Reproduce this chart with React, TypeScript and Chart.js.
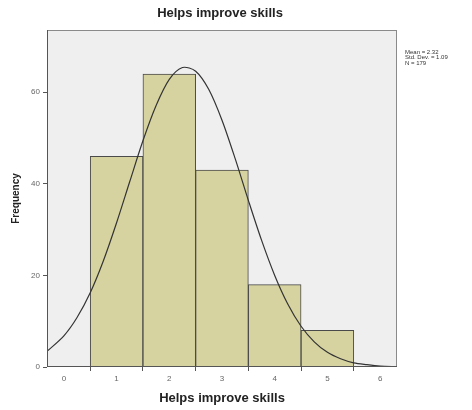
import React, { useEffect, useRef } from "react";
import { Chart, registerables } from "chart.js";

Chart.register(...registerables);

const binCenters = [1, 2, 3, 4, 5];
const frequencies = [46, 64, 43, 18, 8];
const curveX = [-0.32, 0, 0.25, 0.5, 0.75, 1, 1.25, 1.5, 1.75, 2, 2.25, 2.5, 2.75, 3, 3.25, 3.5, 3.75, 4, 4.25, 4.5, 4.75, 5, 5.25, 5.5, 5.75, 6, 6.32];
const curveY = [3.4, 6.8, 10.8, 16.2, 23.2, 31.5, 40.5, 49.4, 57.1, 62.8, 65.4, 64.6, 60.6, 53.9, 45.5, 36.4, 27.7, 20.0, 13.7, 8.9, 5.5, 3.2, 1.8, 0.9, 0.5, 0.2, 0.05];
const xTicks = [0, 1, 2, 3, 4, 5, 6];
const yTicks = [0, 20, 40, 60];
const statsLines = ["Mean = 2.32", "Std. Dev. = 1.09", "N = 179"];
const chartTitle = "Helps improve skills";
const xTitle = "Helps improve skills";
const yTitle = "Frequency";

const FONT = "'Liberation Sans', Arial, sans-serif";

const framePlugin = {
  id: "frame",
  beforeDraw(chart: any) {
    const { ctx, chartArea: a } = chart;
    ctx.save();
    ctx.fillStyle = "#efefef";
    ctx.fillRect(a.left, a.top, a.right - a.left, a.bottom - a.top);
    ctx.restore();
  },
  afterDraw(chart: any) {
    const { ctx, chartArea: a } = chart;
    ctx.save();
    ctx.strokeStyle = "#8a8a8a";
    ctx.lineWidth = 1;
    ctx.strokeRect(a.left + 0.5, a.top + 0.5, a.right - a.left - 1, a.bottom - a.top - 1);
    ctx.strokeStyle = "#555";
    ctx.beginPath();
    ctx.moveTo(a.left, a.bottom - 0.5);
    ctx.lineTo(a.right, a.bottom - 0.5);
    ctx.moveTo(a.left + 0.5, a.top);
    ctx.lineTo(a.left + 0.5, a.bottom);
    ctx.stroke();
    // title
    ctx.fillStyle = "#222";
    ctx.font = `bold 13px ${FONT}`;
    ctx.textAlign = "center";
    ctx.textBaseline = "middle";
    ctx.fillText(chartTitle, 220, 13);
    // stats
    ctx.font = `6px ${FONT}`;
    ctx.textAlign = "left";
    ctx.fillStyle = "#333";
    statsLines.forEach((s, i) => ctx.fillText(s, a.right + 8, 52 + i * 5.8));
    ctx.restore();
  },
};

export default function App() {
  const ref = useRef<HTMLCanvasElement>(null);
  useEffect(() => {
    document.body.style.margin = "0";
    const chart = new Chart(ref.current!, {
      type: "bar",
      data: {
        datasets: [
          {
            type: "line",
            data: curveX.map((x, i) => ({ x, y: curveY[i] })),
            borderColor: "#333",
            borderWidth: 1.2,
            pointRadius: 0,
            tension: 0.3,
            fill: false,
            order: 0,
          } as any,
          {
            type: "bar",
            data: binCenters.map((x, i) => ({ x, y: frequencies[i] })),
            backgroundColor: "#d6d3a0",
            borderColor: "#4a4a4a",
            borderWidth: 1,
            barPercentage: 1,
            categoryPercentage: 1,
            order: 1,
          } as any,
        ],
      },
      options: {
        responsive: false,
        animation: false,
        layout: { padding: { top: 30, right: 75, left: 0, bottom: 0 } },
        plugins: { legend: { display: false }, tooltip: { enabled: false }, title: { display: false } },
        scales: {
          x: {
            type: "linear",
            min: -0.32,
            max: 6.32,
            offset: false,
            afterBuildTicks: (s: any) => {
              s.ticks = xTicks.map((v) => ({ value: v }));
            },
            afterFit: (s: any) => {
              s.height = 43;
            },
            grid: { drawOnChartArea: false, drawTicks: true, tickLength: 4, color: "#555" },
            border: { display: false },
            ticks: { font: { family: FONT, size: 8 }, color: "#666", padding: 3, maxRotation: 0 },
            title: {
              display: true,
              text: xTitle,
              font: { family: FONT, size: 13, weight: "bold" },
              color: "#222",
              padding: { top: 4, bottom: 4 },
            },
          },
          y: {
            min: 0,
            max: 73.6,
            afterBuildTicks: (s: any) => {
              s.ticks = yTicks.map((v) => ({ value: v }));
            },
            afterFit: (s: any) => {
              s.width = 47;
            },
            grid: { drawOnChartArea: false, drawTicks: true, tickLength: 4, color: "#555" },
            border: { display: false },
            ticks: { font: { family: FONT, size: 8 }, color: "#666", padding: 3 },
            title: {
              display: true,
              text: yTitle,
              font: { family: FONT, size: 10, weight: "bold" },
              color: "#222",
              padding: { top: 10, bottom: 0 },
            },
          },
        },
      },
      plugins: [framePlugin],
    } as any);
    return () => chart.destroy();
  }, []);
  return <canvas ref={ref} width={472} height={410} style={{ display: "block" }} />;
}
